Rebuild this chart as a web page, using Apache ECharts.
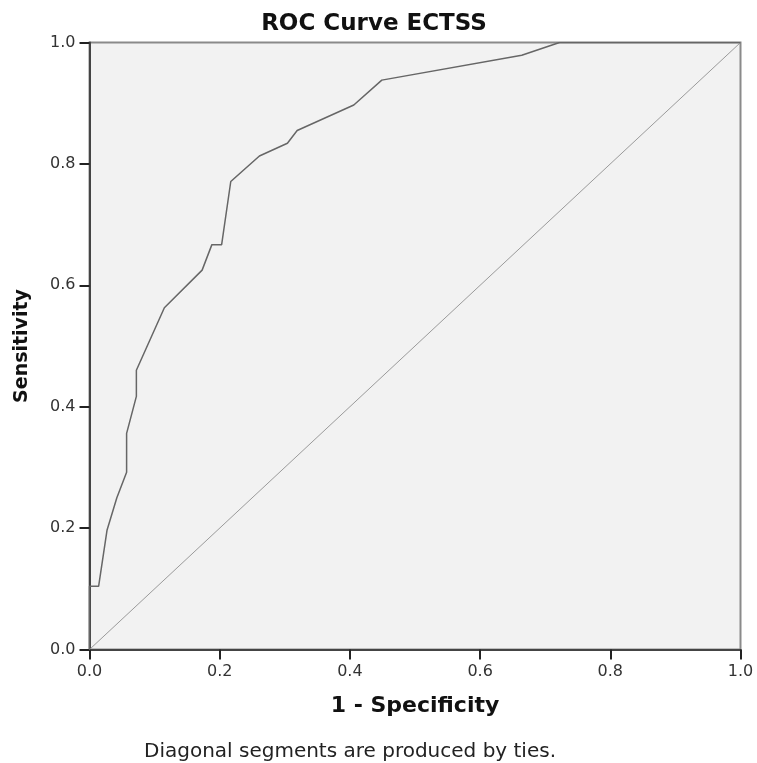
<!DOCTYPE html>
<html>
<head>
<meta charset="utf-8">
<script src="https://cdn.jsdelivr.net/npm/echarts@6/dist/echarts.min.js"></script>
<style>
  html, body { margin: 0; padding: 0; background: #fff; }
  #main { width: 757px; height: 763px; }
</style>
</head>
<body>
<div id="main"></div>
<script>
// ROC curve points
var fpr = [0, 0, 0.014, 0.027, 0.042, 0.057, 0.057, 0.072, 0.072, 0.115, 0.173, 0.188, 0.203, 0.217, 0.261, 0.304, 0.319, 0.406, 0.449, 0.664, 0.722, 1.0];
var tpr = [0, 0.104, 0.104, 0.197, 0.25, 0.292, 0.356, 0.417, 0.46, 0.563, 0.625, 0.667, 0.667, 0.771, 0.813, 0.834, 0.855, 0.897, 0.938, 0.979, 1.0, 1.0];
var refX = [0, 1];
var refY = [0, 1];
var ticks = ['0.0', '0.2', '0.4', '0.6', '0.8', '1.0'];

var font = 'DejaVu Sans';
var axisLabel = {
  color: '#333',
  fontFamily: font,
  fontSize: 16,
  formatter: function (v) { return ticks[Math.round(v * 5)]; }
};

function pairs(xs, ys) {
  return xs.map(function (x, i) { return [x, ys[i]]; });
}

var option = {
  animation: false,
  backgroundColor: '#fff',
  title: {
    text: 'ROC Curve ECTSS',
    left: 369,
    top: 8,
    textAlign: 'center',
    textStyle: { fontFamily: font, fontSize: 23, fontWeight: 'bold', color: '#111' }
  },
  grid: {
    left: 89.5, right: 16.5, top: 42.5, bottom: 113.5,
    show: true,
    backgroundColor: '#f2f2f2',
    borderColor: '#8a8a8a',
    borderWidth: 2
  },
  xAxis: {
    type: 'value', min: 0, max: 1, interval: 0.2,
    name: '1 - Specificity',
    nameLocation: 'middle',
    nameGap: 46,
    nameTextStyle: { fontFamily: font, fontSize: 22, fontWeight: 'bold', color: '#111' },
    axisLine: { lineStyle: { color: '#444', width: 2 } },
    axisTick: { length: 10, lineStyle: { color: '#222', width: 2 } },
    axisLabel: Object.assign({ margin: 14 }, axisLabel),
    splitLine: { show: false }
  },
  yAxis: {
    type: 'value', min: 0, max: 1, interval: 0.2,
    name: 'Sensitivity',
    nameLocation: 'middle',
    nameGap: 58,
    nameTextStyle: { fontFamily: font, fontSize: 19, fontWeight: 'bold', color: '#111' },
    axisLine: { lineStyle: { color: '#444', width: 2 } },
    axisTick: { length: 10, lineStyle: { color: '#222', width: 2 } },
    axisLabel: Object.assign({ margin: 14 }, axisLabel),
    splitLine: { show: false }
  },
  graphic: [{
    type: 'text',
    style: {
      text: 'Diagonal segments are produced by ties.',
      fontFamily: font,
      fontSize: 20,
      fill: '#222',
      x: 350,
      y: 752,
      textAlign: 'center',
      textVerticalAlign: 'middle'
    }
  }],
  series: [
    {
      type: 'line',
      data: pairs(refX, refY),
      symbol: 'none',
      lineStyle: { color: '#9a9a9a', width: 1 },
      z: 2
    },
    {
      type: 'line',
      data: pairs(fpr, tpr),
      symbol: 'none',
      lineStyle: { color: '#666', width: 1.5 },
      z: 3
    }
  ]
};

var myChart = echarts.init(document.getElementById('main'));
myChart.setOption(option);
</script>
</body>
</html>
